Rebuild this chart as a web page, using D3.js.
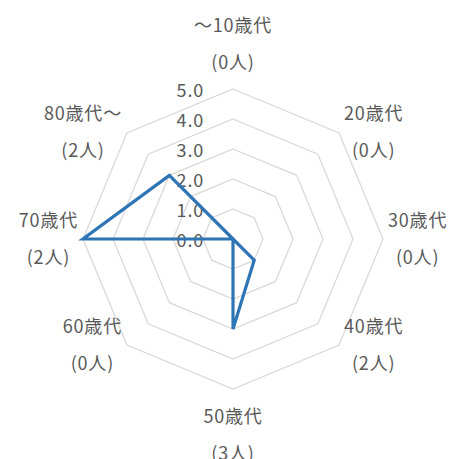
<!DOCTYPE html>
<html><head><meta charset="utf-8">
<script src="https://cdn.jsdelivr.net/npm/d3@7"></script>
<style>html,body{margin:0;padding:0;background:#fff;}svg{display:block;}</style>
</head><body>
<svg id="c" width="454" height="459"></svg>
<script>
const categories = ["～10歳代","20歳代","30歳代","40歳代","50歳代","60歳代","70歳代","80歳代～"];
const counts = ["(0人)","(0人)","(0人)","(2人)","(3人)","(0人)","(2人)","(2人)"];
const values = [0,0,0,1,3,0,5,3];
const ticks = [0,1,2,3,4,5];

const W=454,H=459,cx=233,cy=239,R=150;
const font='"Noto Sans CJK JP","Noto Sans",sans-serif';
const fs=18, ls=0.8;
const svg=d3.select("#c");
const r=d3.scaleLinear().domain([0,5]).range([0,R]);
const ang=d3.scaleLinear().domain([0,categories.length]).range([0,2*Math.PI]);
const pt=(i,v)=>[cx+Math.sin(ang(i))*r(v), cy-Math.cos(ang(i))*r(v)];

// grid rings
ticks.filter(t=>t>0).forEach(t=>{
  svg.append("path")
    .attr("d", d3.line()(categories.map((c,i)=>pt(i,t)))+"Z")
    .attr("fill","none").attr("stroke","#d9d9d9").attr("stroke-width",1.3);
});

// tick labels
svg.selectAll(".tk").data(ticks).join("text")
  .attr("x",cx-29).attr("y",t=>cy-r(t))
  .attr("text-anchor","end").attr("dominant-baseline","central")
  .attr("font-family",font).attr("font-size",fs).attr("letter-spacing",ls).attr("fill","#595959")
  .text(t=>t.toFixed(1));

// series
svg.append("path")
  .attr("d", d3.line()(values.map((v,i)=>pt(i,v)))+"Z")
  .attr("fill","none").attr("stroke","#2E75B6").attr("stroke-width",3.2).attr("stroke-linejoin","miter");

// category labels
const lineGap=37;
categories.forEach((c,i)=>{
  const g=svg.append("g");
  [c,counts[i]].forEach((s,k)=>{
    g.append("text").attr("x",0).attr("y",k*lineGap-lineGap/2)
     .attr("text-anchor","middle").attr("dominant-baseline","central")
     .attr("font-family",font).attr("font-size",fs).attr("letter-spacing",ls).attr("fill","#595959").text(s);
  });
  const bb=g.node().getBBox();
  const a=ang(i), s=Math.sin(a), co=Math.cos(a);
  const [vx,vy]=pt(i,5);
  let x=vx,y=vy-2;
  if(s>0.1) x=vx+5+bb.width/2; else if(s<-0.1) x=vx-5-bb.width/2;
  if(co>0.9) y=vy-15-bb.height/2; else if(co<-0.9) y=vy+13+bb.height/2;
  g.attr("transform",`translate(${x},${y})`);
});
</script>
</body></html>
